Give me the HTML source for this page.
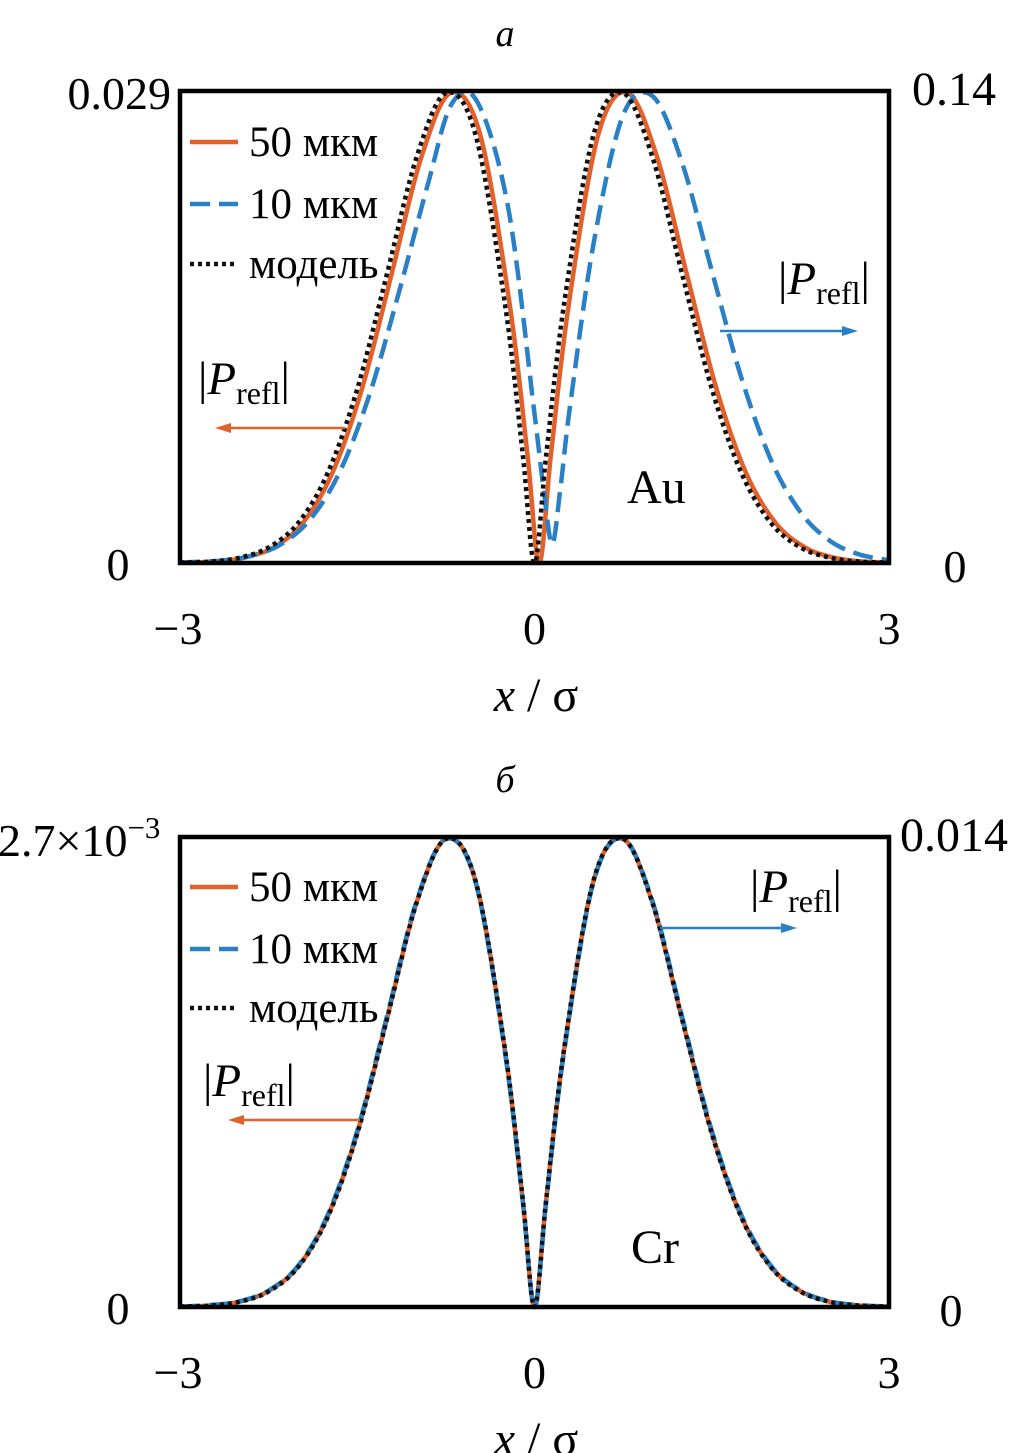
<!DOCTYPE html>
<html><head><meta charset="utf-8"><style>
html,body{margin:0;padding:0;background:#fff;width:1010px;height:1453px;overflow:hidden}
svg{display:block}
text{font-family:"Liberation Serif","DejaVu Serif",serif;fill:#000}
</style></head><body>
<svg id="chart" width="1010" height="1453" viewBox="0 0 1010 1453"></svg>
<script>
// Shared x grid (in units of sigma)
const modelX = [-3,-2.75,-2.5,-2.25,-2,-1.75,-1.5,-1.25,-1,-0.75,-0.5,-0.25,-0.1,0,0.1,0.25,0.5,0.75,1,1.25,1.5,1.75,2,2.25,2.5,2.75,3];
const modelY = [0.001,0.003,0.011,0.033,0.085,0.191,0.369,0.611,0.858,0.996,0.908,0.548,0.231,0,0.231,0.548,0.908,0.996,0.858,0.611,0.369,0.191,0.085,0.033,0.011,0.003,0.001];
// Panel a (Au)
const auOrangeX = [-3,-2.71,-2.46,-2.21,-1.96,-1.71,-1.46,-1.21,-0.96,-0.71,-0.46,-0.21,-0.06,0.04,0.14,0.29,0.54,0.79,1.04,1.29,1.54,1.79,2.04,2.29,2.54,2.79,3];
const auOrangeY = [0.001,0.003,0.011,0.033,0.085,0.191,0.369,0.611,0.858,0.996,0.908,0.548,0.231,0,0.231,0.548,0.908,0.996,0.858,0.611,0.369,0.191,0.085,0.033,0.011,0.003,0.002];
const auBlueX = [-3,-2.65,-2.4,-2.15,-1.9,-1.65,-1.4,-1.15,-0.9,-0.7,-0.48,-0.22,0,0.08,0.15,0.22,0.3,0.5,0.75,1,1.25,1.5,1.75,2,2.25,2.5,2.75,3];
const auBlueY = [0.001,0.005,0.015,0.039,0.092,0.192,0.354,0.571,0.805,0.973,0.975,0.749,0.316,0.15,0.04,0.16,0.33,0.677,0.949,0.989,0.847,0.619,0.393,0.219,0.108,0.047,0.018,0.006];
// Panel b (Cr)
const crOrangeX = modelX.slice();
const crOrangeY = [0.001,0.003,0.011,0.034,0.086,0.193,0.371,0.612,0.859,0.996,0.907,0.546,0.229,0,0.229,0.546,0.907,0.996,0.859,0.612,0.371,0.193,0.086,0.034,0.011,0.003,0.001];
const crBlueX = modelX.slice();
const crBlueY = [0.001,0.004,0.012,0.035,0.088,0.196,0.375,0.617,0.862,0.996,0.905,0.542,0.226,0,0.226,0.542,0.905,0.996,0.862,0.617,0.375,0.196,0.088,0.035,0.012,0.004,0.001];
const xTicks = [-3,0,3];
const xTickLabels = ["\u22123","0","3"];

const NS="http://www.w3.org/2000/svg";
const svg=document.getElementById('chart');
const ORANGE="#e2612b", BLUE="#2a80c6";
function mk(tag,attrs,parent){const e=document.createElementNS(NS,tag);for(const k in attrs)e.setAttribute(k,attrs[k]);(parent||svg).appendChild(e);return e;}
function txt(s,x,y,size,anchor,extra,parent){const t=mk('text',Object.assign({x:x,y:y,'font-size':size,'text-anchor':anchor||'start'},extra||{}),parent);t.textContent=s;return t;}
function pathFrom(xs,ys,sx,sy){
  const P=xs.map((x,i)=>[sx(x),sy(ys[i])]);
  let d=`M${P[0][0].toFixed(1)},${P[0][1].toFixed(1)}`;
  for(let i=0;i<P.length-1;i++){
    const p0=P[Math.max(0,i-1)],p1=P[i],p2=P[i+1],p3=P[Math.min(P.length-1,i+2)];
    const c1=[p1[0]+(p2[0]-p0[0])/6,p1[1]+(p2[1]-p0[1])/6];
    const c2=[p2[0]-(p3[0]-p1[0])/6,p2[1]-(p3[1]-p1[1])/6];
    d+=`C${c1[0].toFixed(1)},${Math.min(c1[1],sy(0)).toFixed(1)} ${c2[0].toFixed(1)},${Math.min(c2[1],sy(0)).toFixed(1)} ${p2[0].toFixed(1)},${p2[1].toFixed(1)}`;
  }
  return d;
}
function arrow(x1,x2,y,color,g){
  mk('line',{x1:x1,y1:y,x2:x2+(x2>x1?-10:10),y2:y,stroke:color,'stroke-width':2.5},g);
  const dir=x2>x1?1:-1;
  mk('polygon',{points:`${x2},${y} ${x2-dir*16},${y-5} ${x2-dir*16},${y+5}`,fill:color},g);
}
function pLabel(x,y,color,g){
  const t=mk('text',{x:x,y:y,'font-size':47,fill:color},g);
  t.innerHTML=`<tspan>|</tspan><tspan font-style="italic">P</tspan><tspan font-size="32" dy="10">refl</tspan><tspan dy="-10">|</tspan>`;
  
  
}

function panel(cfg){
  const g=mk('g',{});
  
  
  const L=180,R=889,T=cfg.top,B=cfg.bottom;
  const sx=x=>L+(x+3)/6*(R-L);
  const sy=v=>B-v*(B-T);
  const title=txt(cfg.title,505,cfg.top-45,38,'middle',{'font-style':'italic'},g);
  
  
  const series=[
    {xs:cfg.oX,ys:cfg.oY,stroke:ORANGE,dash:null,name:'series-50um'},
    {xs:cfg.bX,ys:cfg.bY,stroke:BLUE,dash:'20 9',name:'series-10um'},
    {xs:modelX,ys:modelY,stroke:'#111',dash:'4 4',name:'series-model'}];
  series.forEach(s=>{
    const p=mk('path',{d:pathFrom(s.xs,s.ys,sx,sy),fill:'none',stroke:s.stroke,'stroke-width':4.5,'stroke-dasharray':s.dash||'none'},g);
    
    
  });
  const frame=mk('rect',{x:L,y:T,width:R-L,height:B-T,fill:'none',stroke:'#000','stroke-width':4.5},g);
  
  
  xTicks.forEach((v,i)=>{
    const t=txt(xTickLabels[i],sx(v)+(i==0?-2:0),B+81,46,'middle',{},g);
    
    
  });
  const yl=txt(cfg.yMaxL,cfg.yMaxLx,T+18,46,'end',{},g);
  
  
  const yr=txt(cfg.yMaxR,cfg.yMaxRx,T+14,cfg.yMaxRSize,'middle',{},g);
  
  
  const z1=txt('0',118,B+17,46,'middle',{},g);
  
  
  const z2=txt('0',cfg.zeroRx,B+19,46,'middle',{},g);
  
  
  const xl=mk('text',{x:536,y:B+148,'font-size':48,'text-anchor':'middle'},g);
  xl.innerHTML='<tspan font-style="italic">x</tspan> / σ';
  
  
  const leg=[['50 мкм',ORANGE,null],['10 мкм',BLUE,'20 9'],['модель','#111','4 4']];
  leg.forEach((e,i)=>{
    const y=cfg.legY[i];
    const gl=mk('g',{},g);
    
    
    mk('line',{x1:190,y1:y,x2:238,y2:y,stroke:e[1],'stroke-width':4.5,'stroke-dasharray':e[2]||'none'},gl);
    txt(e[0],249,y+14,43,'start',{},gl);
  });
  pLabel(cfg.oLab[0],cfg.oLab[1],ORANGE,g);
  arrow(cfg.oArr[0],cfg.oArr[1],cfg.oArr[2],ORANGE,g);
  pLabel(cfg.bLab[0],cfg.bLab[1],BLUE,g);
  arrow(cfg.bArr[0],cfg.bArr[1],cfg.bArr[2],BLUE,g);
  const m=txt(cfg.metal,cfg.metalX,cfg.metalY,48,'start',{},g);
  
  
}

panel({name:'panel-au',title:'а',top:91,bottom:563,oX:auOrangeX,oY:auOrangeY,bX:auBlueX,bY:auBlueY,
  yMaxL:'0.029',yMaxLx:171,yMaxR:'0.14',yMaxRSize:48,yMaxRx:954,zeroRx:955,legY:[142,204,264],
  oLab:[198,394],oArr:[345,215,428],bLab:[778,294],bArr:[720,858,331],metal:'Au',metalX:627,metalY:503});
panel({name:'panel-cr',title:'б',top:837,bottom:1307,oX:crOrangeX,oY:crOrangeY,bX:crBlueX,bY:crBlueY,
  yMaxL:'',yMaxLx:170,yMaxR:'0.014',yMaxRSize:48,yMaxRx:954,zeroRx:951,legY:[887,949,1008],
  oLab:[203,1096],oArr:[360,228,1120],bLab:[750,902],bArr:[660,797,928],metal:'Cr',metalX:631,metalY:1263});
const sl=mk('text',{x:-2,y:856,'font-size':46});
sl.innerHTML='2.7×10<tspan font-size="31" dy="-18">−3</tspan>';


</script>
</body></html>
